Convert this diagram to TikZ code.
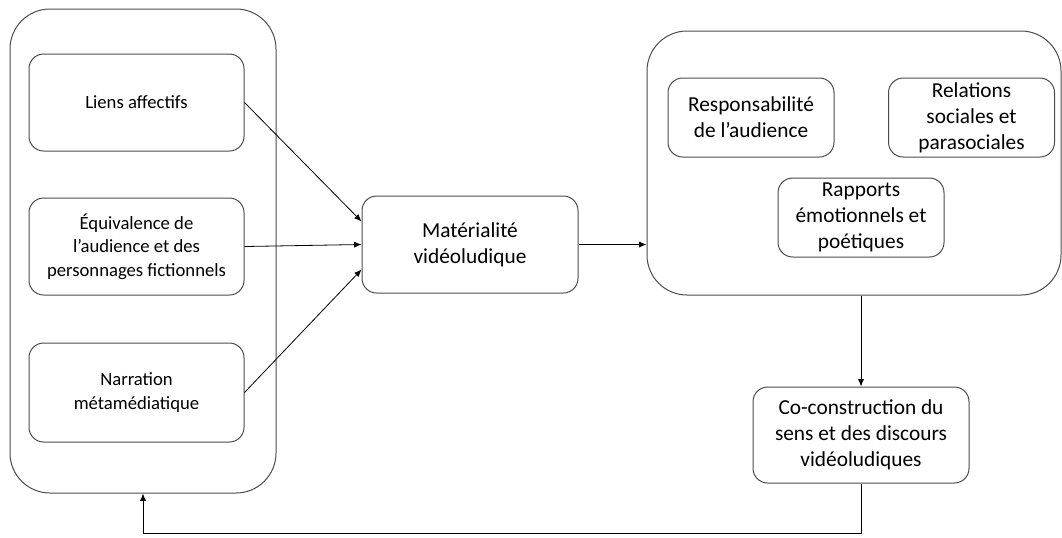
\documentclass[tikz,border=0pt]{standalone}
\usepackage{fontspec}
\setmainfont{Carlito}
\usetikzlibrary{arrows.meta}

\tikzset{every picture/.style={line width=0.75pt}}
\tikzset{
  outerbox/.style={draw=black!70, rounded corners=30pt, inner sep=0pt},
  smallbox/.style={draw=black!70, rounded corners=11pt, align=center, inner sep=2pt,
    font=\fontsize{14}{17.5}\selectfont},
  bigbox/.style={draw=black!70, rounded corners=11pt, align=center, inner sep=2pt,
    font=\fontsize{16}{19.5}\selectfont},
  link/.style={-{Latex[length=5.5pt,width=4.5pt]}, line width=0.6pt},
}

\begin{document}
\begin{tikzpicture}[x=0.75pt,y=0.75pt,yscale=-1,xscale=1]
            \useasboundingbox (0,0) rectangle (1062,537);

            % Containers
            \node [outerbox, minimum width=199.5pt, minimum height=363pt] (facteurs) at (143,251) {};
            \node [outerbox, minimum width=310.5pt, minimum height=198pt] (effets) at (854,163) {};

            % Left column
            \node [smallbox, minimum width=161.25pt, minimum height=72.75pt] (liens) at (136.5,102.5) {Liens affectifs};
            \node [smallbox, minimum width=161.25pt, minimum height=72.75pt] (equiv) at (136.5,246.5) {Équivalence de\\l’audience et des\\personnages fictionnels};
            \node [smallbox, minimum width=161.25pt, minimum height=74.25pt] (narration) at (136.5,392.5) {Narration\\métamédiatique};

            % Middle
            \node [bigbox, minimum width=162pt, minimum height=72.75pt] (materialite) at (470,244.5) {Matérialité\\vidéoludique};

            % Right column
            \node [bigbox, minimum width=124.5pt, minimum height=59.25pt] (respons) at (751,117.5) {Responsabilité\\de l’audience};
            \node [bigbox, minimum width=124.5pt, minimum height=59.25pt] (relations) at (971.5,117.5) {Relations\\sociales et\\parasociales};
            \node [bigbox, minimum width=124.5pt, minimum height=59.25pt] (rapports) at (861,217.5) {Rapports\\émotionnels et\\poétiques};
            \node [bigbox, minimum width=162pt, minimum height=72pt] (coconst) at (861,435) {Co-construction du\\sens et des discours\\vidéoludiques};

            % Connectors
            \draw [link] (liens.east) -- (materialite.168);
            \draw [link] (equiv.east) -- (materialite.west);
            \draw [link] (narration.east) -- (materialite.193);
            \draw [link] (materialite.east) -- (materialite.east -| effets.west);
            \draw [link] (coconst.north |- effets.south) -- (coconst.north);
            \coordinate (retour) at (861,533);
            \draw [link] (coconst.south) -- (retour) -| (facteurs.south);
\end{tikzpicture}
\end{document}
